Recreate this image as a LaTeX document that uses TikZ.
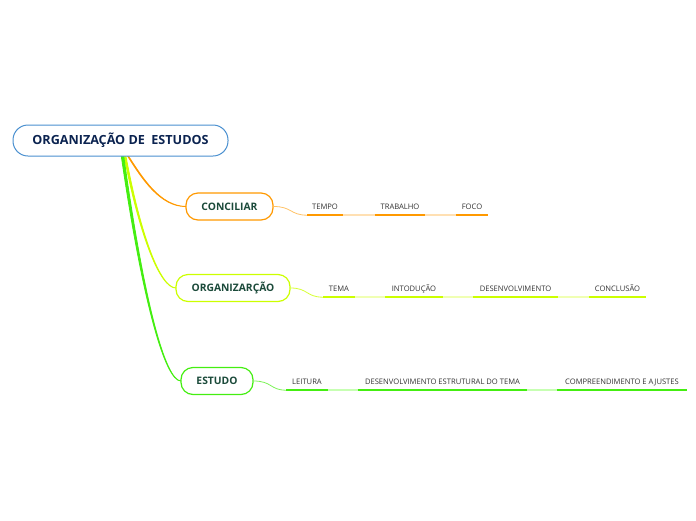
\documentclass[tikz,border=0pt]{standalone}
\usepackage{fontspec}
\setmainfont{Open Sans}
\definecolor{mainblue}{HTML}{4A90D0}
\definecolor{navy}{HTML}{0B2350}
\definecolor{dkgreen}{HTML}{1B4A3A}
\definecolor{corange}{HTML}{FF9900}
\definecolor{lorange}{HTML}{FFE0B3}
\definecolor{cyellow}{HTML}{CCFF00}
\definecolor{lyellow}{HTML}{F0FFB3}
\definecolor{cgreen}{HTML}{44EE11}
\definecolor{lgreen}{HTML}{C7FFB3}
\begin{document}
\begin{tikzpicture}[x=1pt,y=-1pt,
  mainbox/.style={draw=mainblue, line width=1pt, rounded corners=15pt, fill=white,
    minimum width=215pt, minimum height=31pt, inner sep=0pt,
    font=\fontsize{12.6}{14}\selectfont\bfseries, text=navy},
  topicbox/.style={line width=1.2pt, rounded corners=12pt, fill=white,
    minimum height=27pt, inner sep=0pt,
    font=\fontsize{10.3}{12}\selectfont\bfseries, text=dkgreen},
  sub/.style={minimum height=16pt, inner sep=0pt, text=black!80,
    text height=6pt, text depth=2pt,
    font=\fontsize{7.6}{9}\selectfont},
  bar/.style={line width=2pt},
  lnk/.style={line width=2pt},
  conn/.style={line width=0.8pt},
  branch/.style={line width=0.9pt, line join=round}
]
\useasboundingbox (0,0) rectangle (696,520);

% main branches (tapered)
\coordinate (bo) at (128,156);
\coordinate (by) at (125,156);
\coordinate (bg) at (122.5,156);
\coordinate (eo) at (186,206.5);
\coordinate (ey) at (176,288);
\coordinate (eg) at (181,381);
\filldraw[branch, corange] ([xshift=-0.4pt]bo) .. controls (141.6,178.3) and (160,206.8) .. (eo)
  .. controls (160,206.2) and (142.4,177.7) .. ([xshift=0.4pt]bo) -- cycle;
\filldraw[branch, cyellow] ([xshift=-0.9pt]by) .. controls (139.5,235.5) and (160,288.3) .. (ey)
  .. controls (160,287.7) and (140.5,234.5) .. ([xshift=0.9pt]by) -- cycle;
\filldraw[branch, cgreen] ([xshift=-1.2pt]bg) .. controls (142.3,300.5) and (165,381.4) .. (eg)
  .. controls (165,380.6) and (143.7,299.5) .. ([xshift=1.2pt]bg) -- cycle;

\node[mainbox] (main) at (120.5,140.5) {ORGANIZAÇÃO DE~ ESTUDOS};

\node[topicbox, draw=corange, minimum width=87pt] (conc) at (229.5,206.5) {CONCILIAR};
\node[topicbox, draw=cyellow, minimum width=114pt] (org) at (233,288) {ORGANIZARÇÃO};
\node[topicbox, draw=cgreen, minimum width=72pt] (est) at (217,381) {ESTUDO};

% CONCILIAR subtopics
\node[sub, minimum width=36pt] (tempo) at (325,207) {TEMPO};
\node[sub, minimum width=50pt] (trab) at (400,207) {TRABALHO};
\node[sub, minimum width=32pt] (foco) at (472,207) {FOCO};
\draw[conn, corange!60] (conc.east) .. controls (292,206.5) and (290,215) .. (tempo.south west);
\draw[lnk, lorange] (tempo.south east) -- (trab.south west);
\draw[lnk, lorange] (trab.south east) -- (foco.south west);
\foreach \n in {tempo,trab,foco}
  \draw[bar, corange] (\n.south west) -- (\n.south east);

% ORGANIZARCAO subtopics
\node[sub, minimum width=32pt] (tema) at (339,289) {TEMA};
\node[sub, minimum width=58pt] (intro) at (414,289) {INTODUÇÃO};
\node[sub, minimum width=85pt] (desen) at (515.5,289) {DESENVOLVIMENTO};
\node[sub, minimum width=57pt] (concl) at (617.5,289) {CONCLUSÃO};
\draw[conn, cyellow!80] (org.east) .. controls (308,288) and (306,297) .. (tema.south west);
\draw[lnk, lyellow] (tema.south east) -- (intro.south west);
\draw[lnk, lyellow] (intro.south east) -- (desen.south west);
\draw[lnk, lyellow] (desen.south east) -- (concl.south west);
\foreach \n in {tema,intro,desen,concl}
  \draw[bar, cyellow] (\n.south west) -- (\n.south east);

% ESTUDO subtopics
\node[sub, minimum width=42pt] (leit) at (307,382) {LEITURA};
\node[sub, minimum width=169pt] (dest) at (442.5,382) {DESENVOLVIMENTO ESTRUTURAL DO TEMA};
\node[sub, minimum width=130pt] (comp) at (622,382) {COMPREENDIMENTO E AJUSTES};
\draw[conn, cgreen!70] (est.east) .. controls (272,381) and (270,390) .. (leit.south west);
\draw[lnk, lgreen] (leit.south east) -- (dest.south west);
\draw[lnk, lgreen] (dest.south east) -- (comp.south west);
\foreach \n in {leit,dest,comp}
  \draw[bar, cgreen] (\n.south west) -- (\n.south east);
\end{tikzpicture}
\end{document}
